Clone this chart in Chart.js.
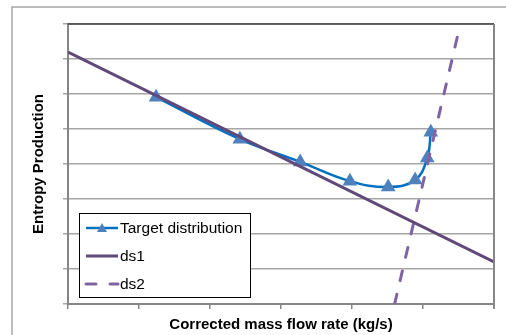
<!DOCTYPE html>
<html lang="en">
  <head>
    <meta charset="UTF-8" />
    <title>Entropy Production</title>
    <script src="https://cdn.jsdelivr.net/npm/chart.js"></script>
    <style>
      body { margin: 0; background: #fff; }
    </style>
  </head>
  <body>
    <canvas id="chart_entropy" width="506" height="335"></canvas>
    <script>
      // mass flow rate (x) and entropy production (y) for each curve
      const targetX = [1.24, 2.42, 3.27, 3.97, 4.51, 4.89, 5.06, 5.11];
      const targetY = [5.91, 4.71, 4.06, 3.51, 3.34, 3.54, 4.17, 4.91];
      const ds1X = [0, 6];
      const ds1Y = [7.2, 1.2];
      const ds2X = [4.6, 5.51];
      const ds2Y = [0, 7.86];

      const toPoints = (xs, ys) => xs.map((x, i) => ({ x: x, y: ys[i] }));

      // outer chart frame, plot border and the boxed legend
      const framePlugin = {
        id: "frame",
        beforeDraw(chart) {
          const ctx = chart.ctx;
          ctx.save();
          ctx.fillStyle = "#fff";
          ctx.fillRect(0, 0, chart.width, chart.height);
          ctx.strokeStyle = "#a6a6a6";
          ctx.lineWidth = 1.5;
          ctx.beginPath();
          ctx.moveTo(12, chart.height);
          ctx.lineTo(12, 7);
          ctx.lineTo(chart.width, 7);
          ctx.stroke();
          ctx.restore();
        },
        afterDraw(chart) {
          const ctx = chart.ctx;
          const a = chart.chartArea;
          ctx.save();
          ctx.lineWidth = 1.5;
          ctx.strokeStyle = "#404040";
          ctx.beginPath();
          ctx.moveTo(a.left, a.top);
          ctx.lineTo(a.right, a.top);
          ctx.stroke();
          ctx.lineWidth = 2;
          ctx.strokeStyle = "#868686";
          ctx.beginPath();
          ctx.moveTo(a.right, a.top);
          ctx.lineTo(a.right, a.bottom + 5);
          ctx.stroke();

          // legend
          const bx = 79, by = 213, bw = 171, bh = 84;
          ctx.fillStyle = "#fff";
          ctx.fillRect(bx, by, bw, bh);
          ctx.lineWidth = 1;
          ctx.strokeStyle = "#000";
          ctx.strokeRect(bx + 0.5, by + 0.5, bw, bh);
          const rows = [228, 256, 284];
          ctx.font = "15.5px 'Liberation Sans'";
          ctx.textBaseline = "middle";
          chart.data.datasets.forEach((ds, i) => {
            const y = rows[i];
            ctx.strokeStyle = ds.borderColor;
            ctx.lineWidth = ds.borderWidth;
            ctx.lineCap = ds.borderCapStyle || "butt";
            ctx.setLineDash(ds.borderDash || []);
            ctx.beginPath();
            ctx.moveTo(86, y);
            ctx.lineTo(118, y);
            ctx.stroke();
            ctx.setLineDash([]);
            if (ds.pointRadius > 0) {
              ctx.fillStyle = ds.pointBackgroundColor;
              const r = 5;
              ctx.beginPath();
              ctx.moveTo(102, y - r);
              ctx.lineTo(102 + r, y + r * 0.8);
              ctx.lineTo(102 - r, y + r * 0.8);
              ctx.closePath();
              ctx.fill();
            }
            ctx.fillStyle = "#000";
            ctx.fillText(ds.label, 120, y + 1);
          });
          ctx.restore();
        },
      };

      const ctx = document.getElementById("chart_entropy");

      new Chart(ctx, {
        type: "line",
        data: {
          datasets: [
            {
              label: "Target distribution",
              data: toPoints(targetX, targetY),
              borderColor: "#0070c0",
              borderWidth: 2.5,
              tension: 0.4,
              pointStyle: "triangle",
              pointRadius: 6,
              pointBackgroundColor: "#4f81bd",
              pointBorderColor: "#4f81bd",
              order: 2,
            },
            {
              label: "ds1",
              data: toPoints(ds1X, ds1Y),
              borderColor: "#5f497a",
              borderWidth: 3,
              pointRadius: 0,
              order: 0,
            },
            {
              label: "ds2",
              data: toPoints(ds2X, ds2Y),
              borderColor: "#8064a2",
              borderWidth: 3,
              borderDash: [10, 14],
              borderCapStyle: "round",
              pointRadius: 0,
              order: 1,
            },
          ],
        },
        options: {
          responsive: false,
          animation: false,
          devicePixelRatio: 1,
          layout: { padding: { top: 24, right: 12, left: 30, bottom: 1 } },
          plugins: {
            legend: { display: false },
            tooltip: { enabled: false },
          },
          scales: {
            x: {
              type: "linear",
              min: 0,
              max: 6,
              ticks: { display: false, stepSize: 1 },
              grid: { drawOnChartArea: false, color: "#868686", tickLength: 5, lineWidth: 1.5 },
              border: { color: "#868686", width: 2 },
              title: {
                display: true,
                text: "Corrected mass flow rate (kg/s)",
                color: "#000",
                font: { family: "'Liberation Sans'", size: 15, weight: "bold", lineHeight: 1.2 },
                padding: { top: 7, bottom: 0 },
              },
            },
            y: {
              min: 0,
              max: 8,
              ticks: { display: false, stepSize: 1 },
              grid: { color: "#a6a6a6", tickLength: 5, lineWidth: 1.5 },
              border: { color: "#868686", width: 2 },
              title: {
                display: true,
                text: "Entropy Production",
                color: "#000",
                font: { family: "'Liberation Sans'", size: 15, weight: "bold", lineHeight: 1.2 },
                padding: { top: 0, bottom: 15 },
              },
            },
          },
        },
        plugins: [framePlugin],
      });
    </script>
  </body>
</html>
